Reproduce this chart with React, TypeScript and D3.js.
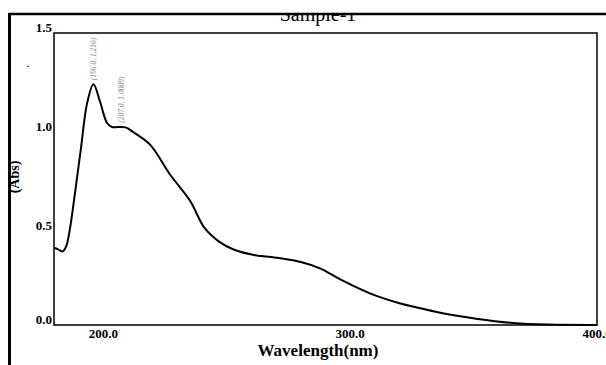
import React from 'react';
import * as d3 from 'd3';

// spectrum
const wavelength = [180, 181.5, 183.5, 185, 186.5, 188, 189.5, 191, 193.4, 196, 198.6, 201.5, 203.5, 206, 209, 212, 219, 227, 235, 241, 247, 253, 261, 271, 280, 288, 296, 308, 320, 328, 338, 351, 366, 380, 400];
const absorbance = [0.39, 0.383, 0.372, 0.40, 0.49, 0.62, 0.76, 0.90, 1.12, 1.216, 1.13, 1.02, 1.0, 1.0, 0.998, 0.975, 0.91, 0.76, 0.63, 0.49, 0.42, 0.38, 0.354, 0.338, 0.318, 0.285, 0.23, 0.16, 0.11, 0.086, 0.058, 0.032, 0.01, 0.002, 0.0];

const xTicks = [200, 300, 400];
const yTicks = [0, 0.5, 1.0, 1.5];
const peaks = [
  { wl: 196, abs: 1.216, label: '(196.0, 1.216)' },
  { wl: 207, abs: 1.0009, label: '(207.0, 1.0009)' },
];

const W = 606;
const H = 365;
const box = { left: 54, right: 597, top: 33, bottom: 325 };

const App = () => {
  const x = d3.scaleLinear().domain([180, 400]).range([box.left, box.right]);
  const y = d3.scaleLinear().domain([0, 1.5]).range([box.bottom, 28]);

  const line = d3.line<number>()
    .x((d, i) => x(wavelength[i]))
    .y(d => y(d))
    .curve(d3.curveCatmullRom.alpha(0.5));

  const serif = '"Liberation Serif", "Times New Roman", serif';

  return (
    <div style={{ position: 'fixed', left: 0, top: 0 }}>
      <svg width={W} height={H} style={{ display: 'block', background: '#fff' }}>
        <defs>
          <clipPath id="titleClip">
            <rect x={0} y={15} width={W} height={30} />
          </clipPath>
        </defs>

        {/* outer frame */}
        <line x1={9} y1={14} x2={W} y2={14} stroke="#000" strokeWidth={2.5} />
        <line x1={9.5} y1={13} x2={9.5} y2={H} stroke="#000" strokeWidth={3} />

        {/* title, cut by the frame */}
        <text x={318} y={21} textAnchor="middle" fontFamily={serif} fontSize={20}
          clipPath="url(#titleClip)">Sample-1</text>

        {/* plot box */}
        <rect x={box.left} y={box.top} width={box.right - box.left} height={box.bottom - box.top}
          fill="none" stroke="#111" strokeWidth={1.6} />

        {/* y ticks */}
        {yTicks.map(t => (
          <text key={t} x={52} y={t === 0 ? y(t) - 1 : y(t) + 4} textAnchor="end"
            fontFamily={serif} fontWeight="bold" fontSize={13}>{t.toFixed(1)}</text>
        ))}

        {/* x ticks */}
        {xTicks.map(t => (
          <text key={t} x={x(t)} y={338} textAnchor="middle"
            fontFamily={serif} fontWeight="bold" fontSize={13}>{t.toFixed(1)}</text>
        ))}

        <text x={318} y={356} textAnchor="middle" fontFamily={serif} fontWeight="bold"
          fontSize={17}>Wavelength(nm)</text>
        <text transform="translate(19,177) rotate(-90)" textAnchor="middle" fontFamily={serif}
          fontWeight="bold" fontSize={14}>(Abs)</text>
        <text x={28} y={67} textAnchor="middle" fontFamily={serif} fontSize={12}>.</text>

        {/* spectrum */}
        <path d={line(absorbance) || ''} fill="none" stroke="#000" strokeWidth={2} />

        {/* peak labels */}
        {peaks.map(p => (
          <text key={p.label} transform={`translate(${x(p.wl) + 3},${y(p.abs) - 4}) rotate(-90)`}
            fontFamily={serif} fontStyle="italic" fontSize={7.5} fill="#888">{p.label}</text>
        ))}
      </svg>
    </div>
  );
};

export default App;
